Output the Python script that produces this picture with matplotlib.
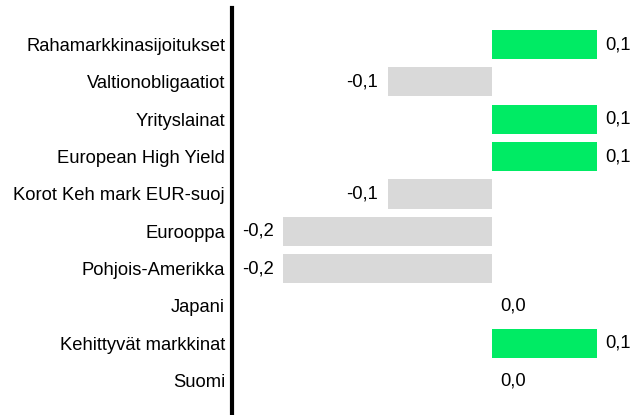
import matplotlib.pyplot as plt

plt.rcParams['font.family'] = ['Liberation Sans', 'DejaVu Sans']

categories = ['Rahamarkkinasijoitukset', 'Valtionobligaatiot', 'Yrityslainat',
              'European High Yield', 'Korot Keh mark EUR-suoj', 'Eurooppa',
              'Pohjois-Amerikka', 'Japani', 'Kehittyvät markkinat', 'Suomi']
values = [0.1, -0.1, 0.1, 0.1, -0.1, -0.2, -0.2, 0.0, 0.1, 0.0]
labels = ['0,1', '-0,1', '0,1', '0,1', '-0,1', '-0,2', '-0,2', '0,0', '0,1', '0,0']

GREEN = '#00EB64'
GREY = '#D9D9D9'
FS = 13.2

fig = plt.figure(figsize=(6.3, 4.15), dpi=100)
ax = fig.add_axes([232 / 630, 0, 1 - 232 / 630, 1 - 8 / 415])

pos = list(range(len(categories)))
colors = [GREEN if v > 0 else GREY for v in values]
ax.barh(pos, values, height=0.78, color=colors)

# value labels: left of negative bars, right of the rest
for p, v, lab in zip(pos, values, labels):
    if v < 0:
        ax.annotate(lab, (v, p), xytext=(-7, 0), textcoords='offset points',
                    ha='right', va='center', fontsize=FS)
    else:
        ax.annotate(lab, (v, p), xytext=(6, 0), textcoords='offset points',
                    ha='left', va='center', fontsize=FS)

ax.set_xlim(-0.249, 0.132)
ax.set_ylim(9.92, -0.98)
ax.set_yticks(pos)
ax.set_yticklabels(categories, fontsize=FS)
ax.tick_params(axis='y', length=0, pad=5)
ax.set_xticks([])
for s in ['top', 'right', 'bottom']:
    ax.spines[s].set_visible(False)
ax.spines['left'].set_linewidth(3)

fig.savefig('out.png', dpi=100)
